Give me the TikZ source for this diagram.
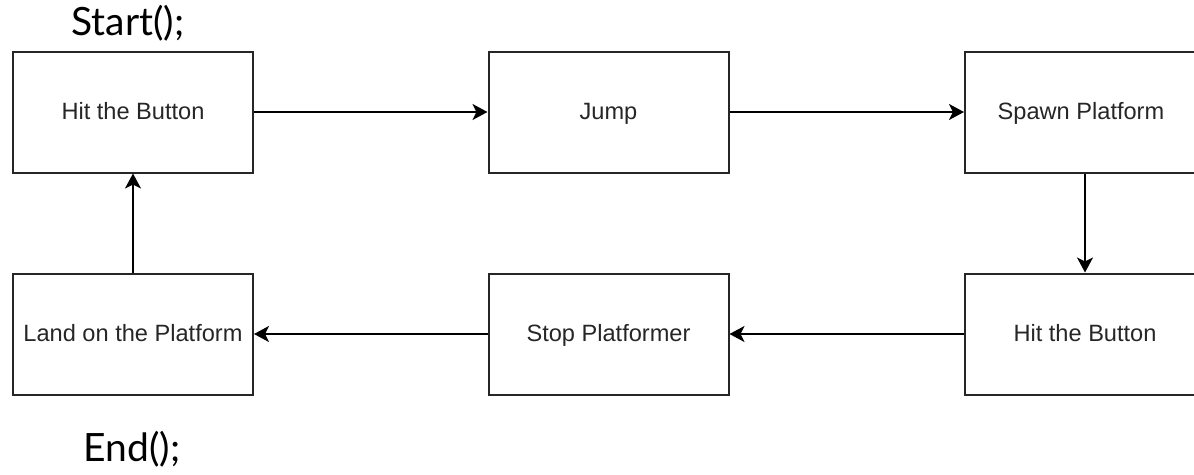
\documentclass[tikz,border=0pt]{standalone}
\usepackage{fontspec}
\setmainfont{Liberation Sans}
\newfontfamily\titlefont{Lato}
\usetikzlibrary{arrows.meta}
\begin{document}
\begin{tikzpicture}[x=1pt,y=-1pt,
  stepbox/.style={draw=black!85,line width=2pt,minimum width=240pt,minimum height=121pt,inner sep=0pt,text height=17pt,text depth=3pt,font=\fontsize{23.6}{26}\selectfont,text=black!85},
  conn/.style={draw=black,line width=2pt,-{Stealth[length=15pt,width=16pt,inset=4pt]}},
  title/.style={font=\titlefont\fontsize{39}{44}\selectfont,anchor=base}]
\useasboundingbox (0,0) rectangle (1194,474);
\clip (0,0) rectangle (1194,474);
\node[stepbox] (b1) at (133,112) {Hit the Button};
\node[stepbox] (b2) at (608.5,112) {Jump};
\node[stepbox] (b3) at (1085,112) {\hspace*{-4pt}Spawn Platform\hspace*{4pt}};
\node[stepbox] (b4) at (1085,334) {Hit the Button};
\node[stepbox] (b5) at (608.5,334) {Stop Platformer};
\node[stepbox] (b6) at (133,334) {Land on the Platform};
\node[title] (start) at (128,35) {Start();};
\node[title] (end) at (132,461) {End();};
\draw[conn] (b1) -- (b2);
\draw[conn] (b2) -- (b3);
\draw[conn] (b3) -- (b4);
\draw[conn] (b4) -- (b5);
\draw[conn] (b5) -- (b6);
\draw[conn] (b6) -- (b1);
\end{tikzpicture}
\end{document}
